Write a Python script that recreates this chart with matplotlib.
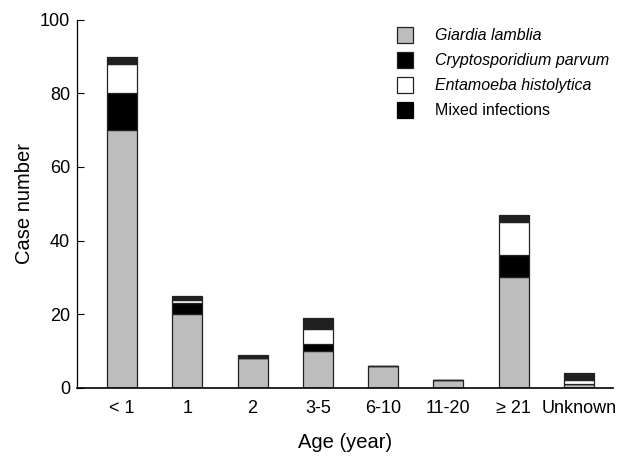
import matplotlib
matplotlib.use("Agg")
import matplotlib.pyplot as plt
import numpy as np
from matplotlib.patches import Patch

plt.rcParams['font.family'] = ['Liberation Sans', 'DejaVu Sans']

categories = ["< 1", "1", "2", "3-5", "6-10", "11-20", "\u2265 21", "Unknown"]
giardia = [70, 20, 8, 10, 6, 2, 30, 1]
crypto = [10, 3, 0, 2, 0, 0, 6, 0]
entamoeba = [8, 1, 0, 4, 0, 0, 9, 1]
mixed = [2, 1, 1, 3, 0, 0, 2, 2]
series_names = ["Giardia lamblia", "Cryptosporidium parvum", "Entamoeba histolytica", "Mixed infections"]
yticks = [0, 20, 40, 60, 80, 100]

fig = plt.figure(figsize=(6.21, 4.59), dpi=100)
ax = fig.add_axes([0.124, 0.155, 0.863, 0.802])

x = np.arange(len(categories))
w = 0.46
series = [giardia, crypto, entamoeba, mixed]
faces = ["#bdbdbd", "#000000", "#ffffff", "#202020"]
bottom = np.zeros(len(categories))
for vals, fc in zip(series, faces):
    vals = np.array(vals, dtype=float)
    ax.bar(x, vals, w, bottom=bottom, color=fc, edgecolor="#222222", linewidth=0.9)
    bottom += vals

ax.set_xlim(-0.69, 7.52)
ax.set_ylim(0, 100)
ax.set_yticks(yticks)
ax.set_xticks(x)
ax.set_xticklabels(categories, fontsize=13)
ax.tick_params(axis='y', direction='in', length=5, labelsize=13, pad=5, width=0.8)
ax.tick_params(axis='x', length=0, pad=9)
for s in ['top', 'right']:
    ax.spines[s].set_visible(False)
ax.spines['left'].set_linewidth(0.9)
ax.spines['bottom'].set_linewidth(1.2)

ax.set_ylabel("Case number", fontsize=14.5, labelpad=4)
ax.set_xlabel("Age (year)", fontsize=14.5, labelpad=11)

handles = [Patch(facecolor=fc, edgecolor="#222222", linewidth=0.9) for fc in faces]
handles[3] = Patch(facecolor="#000000", edgecolor="#000000", linewidth=0.9)
leg = ax.legend(handles, series_names, loc='upper left', bbox_to_anchor=(0.57, 1.02),
                frameon=False, fontsize=11.5, handlelength=1.0, handleheight=1.2,
                labelspacing=0.53, handletextpad=1.4)
for i, t in enumerate(leg.get_texts()):
    if i < 3:
        t.set_style('italic')

fig.savefig("out.png", dpi=100)
